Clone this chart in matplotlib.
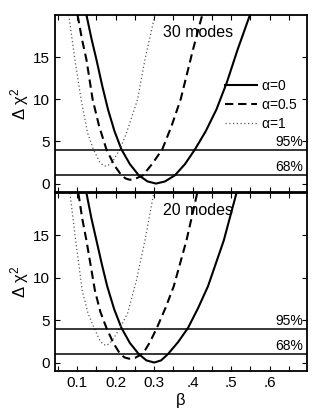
import matplotlib
matplotlib.use('Agg')
import matplotlib.pyplot as plt
import numpy as np

plt.rcParams['font.family'] = ['Liberation Sans', 'DejaVu Sans']
plt.rcParams['mathtext.fontset'] = 'custom'
plt.rcParams['mathtext.rm'] = 'Liberation Sans'
plt.rcParams['mathtext.it'] = 'Liberation Sans'
plt.rcParams['mathtext.default'] = 'rm'

# values
# 30 modes panel
beta_30_a0 = [0.124, 0.137, 0.150, 0.165, 0.180, 0.197, 0.215, 0.237, 0.260, 0.283, 0.305,
              0.328, 0.354, 0.380, 0.406, 0.434, 0.462, 0.489, 0.517, 0.549]
chi_30_a0 = [20.0, 17.2, 14.7, 11.6, 8.8, 6.2, 4.05, 2.3, 0.98, 0.25, 0.0,
             0.25, 0.98, 2.3, 4.05, 6.2, 8.8, 12.0, 15.9, 20.0]
beta_30_a05 = [0.101, 0.112, 0.124, 0.140, 0.157, 0.176, 0.196, 0.215, 0.226, 0.237, 0.250,
               0.271, 0.296, 0.321, 0.345, 0.369, 0.401, 0.425]
chi_30_a05 = [20.0, 17.2, 14.7, 10.0, 6.8, 4.05, 2.2, 0.98, 0.6, 0.45, 0.55,
              0.98, 2.4, 4.05, 6.8, 10.0, 15.9, 20.0]
beta_30_a1 = [0.078, 0.094, 0.110, 0.127, 0.142, 0.159, 0.168, 0.176, 0.185, 0.193, 0.202,
              0.211, 0.228, 0.257, 0.276, 0.302]
chi_30_a1 = [20.0, 14.7, 10.0, 6.0, 4.05, 2.5, 2.15, 2.05, 2.3, 2.7, 3.4,
             4.05, 6.0, 10.0, 14.7, 20.0]

# 20 modes panel
beta_20_a0 = [0.124, 0.137, 0.150, 0.164, 0.178, 0.196, 0.215, 0.237, 0.260, 0.280, 0.300,
              0.318, 0.336, 0.362, 0.388, 0.414, 0.440, 0.481, 0.514]
chi_20_a0 = [20.0, 17.0, 14.4, 11.6, 9.0, 6.3, 4.08, 2.3, 1.0, 0.25, 0.0,
             0.25, 1.0, 2.4, 4.08, 6.4, 9.0, 14.4, 20.0]
beta_20_a05 = [0.103, 0.113, 0.124, 0.146, 0.160, 0.176, 0.194, 0.211, 0.223, 0.235, 0.250,
               0.271, 0.289, 0.307, 0.330, 0.351, 0.384, 0.412]
chi_20_a05 = [20.0, 17.0, 14.4, 8.5, 6.0, 4.08, 2.3, 1.05, 0.6, 0.45, 0.55,
              1.05, 2.4, 4.08, 6.5, 9.0, 14.4, 20.0]
beta_20_a1 = [0.081, 0.096, 0.113, 0.128, 0.144, 0.160, 0.168, 0.176, 0.185, 0.194, 0.202,
              0.211, 0.231, 0.254, 0.276, 0.299]
chi_20_a1 = [20.0, 14.4, 8.5, 5.8, 4.08, 2.5, 2.15, 2.0, 2.3, 2.8, 3.4,
             4.08, 5.8, 9.7, 14.4, 20.0]

conf_levels = [1.0, 4.0]
conf_labels = ['68%', '95%']
panel_titles = ['30 modes', '20 modes']
xtick_major = [0.1, 0.2, 0.3, 0.4, 0.5, 0.6]
xtick_labels = ['0.1', '0.2', '0.3', '.4', '.5', '.6']
ytick_vals = [0, 5, 10, 15]

panels = [
    (beta_30_a0, chi_30_a0, beta_30_a05, chi_30_a05, beta_30_a1, chi_30_a1),
    (beta_20_a0, chi_20_a0, beta_20_a05, chi_20_a05, beta_20_a1, chi_20_a1),
]

fig = plt.figure(figsize=(3.17, 4.12), dpi=100)
ax_top = fig.add_axes([0.172, 0.534, 0.796, 0.4296])
ax_bot = fig.add_axes([0.172, 0.0995, 0.796, 0.432])

for i, ax in enumerate([ax_top, ax_bot]):
    b0, c0, b05, c05, b1, c1 = panels[i]
    l0, = ax.plot(b0, c0, color='black', lw=1.5, label=r'$\alpha$=0')
    l05, = ax.plot(b05, c05, color='black', lw=1.5, linestyle=(0, (4, 2.3)), label=r'$\alpha$=0.5')
    l1, = ax.plot(b1, c1, color='0.35', lw=0.9, linestyle=(0, (1, 2)), label=r'$\alpha$=1')
    for lev, lab in zip(conf_levels, conf_labels):
        ax.axhline(lev, color='black', lw=1.1)
        ax.text(0.688, lev + 0.12, lab, ha='right', va='bottom', fontsize=10)
    ax.text(0.415, 17.9, panel_titles[i], ha='center', va='center', fontsize=11.5, zorder=0)

    ax.set_xlim(0.041, 0.697)
    ax.set_ylim(-1, 20)
    ax.set_xticks(xtick_major)
    ax.set_xticks(np.arange(0.05, 0.70, 0.1), minor=True)
    ax.set_yticks(ytick_vals)
    ax.tick_params(which='both', direction='in', top=True, right=True, length=3.5, width=0.8,
                   labelsize=11)
    ax.set_ylabel(r'$\Delta\ \chi^2$', fontsize=12, labelpad=1)
    for s in ax.spines.values():
        s.set_linewidth(1.3)

    if i == 0:
        ax.set_xticklabels([])
        ax.legend(handles=[l0, l05, l1], loc='upper left', bbox_to_anchor=(0.675, 0.64),
                  frameon=False, fontsize=10, handlelength=2.35, handletextpad=0.25,
                  labelspacing=0.38, borderpad=0, borderaxespad=0)
    else:
        ax.set_xticklabels(xtick_labels)
        ax.set_xlabel(r'$\beta$', fontsize=12, labelpad=1)

fig.savefig('out.png', dpi=100)
